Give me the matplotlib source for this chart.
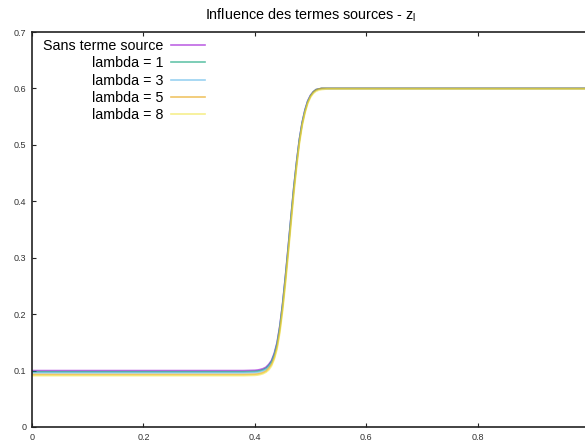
import matplotlib
matplotlib.use('Agg')
import matplotlib.pyplot as plt

# valeurs
x = [0.0, 0.30, 0.38,
     0.400, 0.405, 0.410, 0.415, 0.420, 0.425, 0.430, 0.435, 0.440, 0.445,
     0.450, 0.455, 0.460, 0.465, 0.470, 0.475, 0.480, 0.485, 0.490, 0.495,
     0.500, 0.505, 0.510, 0.515, 0.520,
     0.53, 0.60, 1.0]

z_sans = [0.100, 0.100, 0.100,
          0.1005, 0.101, 0.102, 0.1035, 0.106, 0.111, 0.118, 0.131, 0.150, 0.180,
          0.220, 0.268, 0.320, 0.373, 0.425, 0.470, 0.510, 0.540, 0.562, 0.578,
          0.588, 0.594, 0.598, 0.599, 0.600,
          0.600, 0.600, 0.600]
z_l1 = [0.098, 0.098, 0.098,
        0.0985, 0.099, 0.100, 0.1015, 0.104, 0.109, 0.116, 0.129, 0.148, 0.178,
        0.218, 0.266, 0.318, 0.372, 0.424, 0.469, 0.509, 0.539, 0.561, 0.577,
        0.587, 0.594, 0.598, 0.599, 0.600,
        0.600, 0.600, 0.600]
z_l3 = [0.096, 0.096, 0.096,
        0.0965, 0.097, 0.098, 0.0995, 0.102, 0.107, 0.114, 0.127, 0.146, 0.176,
        0.216, 0.264, 0.316, 0.370, 0.422, 0.468, 0.508, 0.538, 0.560, 0.577,
        0.587, 0.593, 0.597, 0.599, 0.600,
        0.600, 0.600, 0.600]
z_l5 = [0.093, 0.093, 0.093,
        0.0935, 0.094, 0.095, 0.0965, 0.099, 0.104, 0.111, 0.123, 0.142, 0.172,
        0.211, 0.259, 0.311, 0.365, 0.418, 0.464, 0.505, 0.536, 0.558, 0.575,
        0.586, 0.593, 0.597, 0.599, 0.600,
        0.600, 0.600, 0.600]
z_l8 = [0.091, 0.091, 0.091,
        0.0915, 0.092, 0.093, 0.0945, 0.097, 0.101, 0.108, 0.120, 0.138, 0.167,
        0.206, 0.253, 0.305, 0.359, 0.412, 0.459, 0.501, 0.533, 0.556, 0.573,
        0.584, 0.591, 0.595, 0.597, 0.598,
        0.599, 0.599, 0.599]

series = [z_sans, z_l1, z_l3, z_l5, z_l8]
labels = ['Sans terme source', 'lambda = 1', 'lambda = 3', 'lambda = 5', 'lambda = 8']
couleurs = ['#9400d3', '#009e73', '#56b4e9', '#e69f00', '#f0e442']

# le 1 de l'axe x tombe hors de l'image dans l'original
xticks = [0, 0.2, 0.4, 0.6, 0.8, 1]
xticklabels = ['0', '0.2', '0.4', '0.6', '0.8', '']
yticks = [0, 0.1, 0.2, 0.3, 0.4, 0.5, 0.6, 0.7]
yticklabels = ['0', '0.1', '0.2', '0.3', '0.4', '0.5', '0.6', '0.7']

plt.rcParams['font.family'] = ['Liberation Sans', 'DejaVu Sans']

fig = plt.figure(figsize=(5.85, 4.43), dpi=100)
ax = fig.add_axes([32 / 585, 16 / 443, 557 / 585, 395 / 443])

for y, lab, c in zip(series, labels, couleurs):
    ax.plot(x, y, color=c, lw=1.2, alpha=0.6, label=lab)

ax.set_xlim(0, 1)
ax.set_ylim(0, 0.7)
ax.set_xticks(xticks)
ax.set_xticklabels(xticklabels)
ax.set_yticks(yticks)
ax.set_yticklabels(yticklabels)
ax.tick_params(direction='in', length=3, width=0.8, labelsize=6.5, pad=4,
               top=True, right=True, colors='#222222', labelcolor='#333333')
for s in ax.spines.values():
    s.set_linewidth(1.2)
    s.set_color('#222222')

ax.set_title(r'Influence des termes sources - z$_{\mathregular{l}}$', fontsize=10.4, pad=9)

leg = ax.legend(loc='upper left', frameon=False, markerfirst=False, fontsize=10.3,
                handlelength=2.4, labelspacing=0.23, borderaxespad=0.2,
                handletextpad=0.55, bbox_to_anchor=(0.004, 1.004))
for col in leg._legend_handle_box.get_children():
    col.align = 'right'

plt.savefig('out.png', dpi=100)
plt.close()
